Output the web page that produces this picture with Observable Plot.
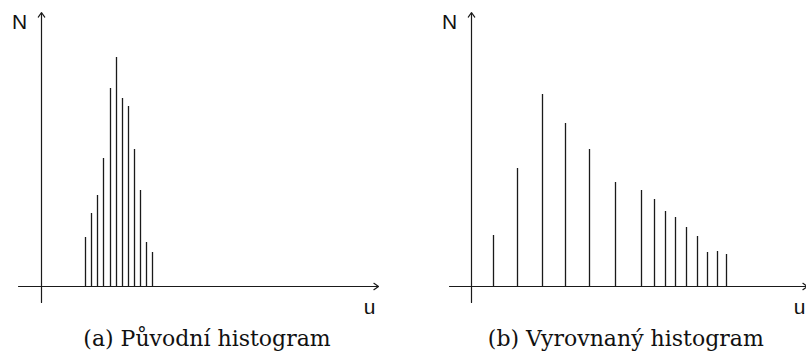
<!DOCTYPE html>
<html>
<head>
<meta charset="utf-8">
<script src="https://cdn.jsdelivr.net/npm/d3@7"></script>
<script src="https://cdn.jsdelivr.net/npm/@observablehq/plot@0.6"></script>
<style>
  html, body { margin: 0; padding: 0; background: #fff; }
  #wrap { display: flex; width: 806px; height: 354px; overflow: hidden; }
</style>
</head>
<body>
<div id="wrap"></div>
<script>
// Original histogram (a): gray level u and count N
const origU = [44, 50, 56, 62, 69, 75, 81, 87, 93, 99, 105, 111];
const origN = [49, 73, 91, 128, 198, 229, 188, 180, 137, 96, 44, 34];

// Equalized histogram (b)
const eqU = [22, 46, 71, 94, 118, 144, 170, 183, 194, 204, 215, 226, 236, 246, 255];
const eqN = [51, 118, 192, 163, 137, 104, 96, 87, 75, 69, 59, 50, 34, 35, 32];

// Texts
const captions = ["(a) Původní histogram", "(b) Vyrovnaný histogram"];
const yLabel = "N";
const xLabel = "u";

// axis extents (data units)
const axisXLeft = [-23, 337];
const axisXRight = [-22, 336];
const axisYExtent = [-16, 274];

function panel(us, ns, caption, xDomain, axisX, captionU) {
  const data = us.map((u, i) => ({u, n: ns[i]}));
  const svg = Plot.plot({
    width: 403,
    height: 354,
    marginTop: 0, marginBottom: 0, marginLeft: 0, marginRight: 0,
    x: {domain: xDomain, axis: null},
    y: {domain: [-68, 286], axis: null},
    style: {background: "transparent"},
    marks: [
      Plot.ruleX(data, {x: "u", y1: 0, y2: "n", stroke: "#1a1a1a", strokeWidth: 1.3}),
      Plot.arrow([{x1: axisX[0], x2: axisX[1]}], {x1: "x1", x2: "x2", y1: 0, y2: 0, stroke: "#1a1a1a", strokeWidth: 1.2, headLength: 7, headAngle: 70}),
      Plot.arrow([{y1: axisYExtent[0], y2: axisYExtent[1]}], {x1: 0, x2: 0, y1: "y1", y2: "y2", stroke: "#1a1a1a", strokeWidth: 1.2, headLength: 7, headAngle: 70}),
      Plot.text([yLabel], {x: -22, y: 258, text: d => d, fontSize: 21, lineAnchor: "bottom", fill: "#111"}),
      Plot.text([xLabel], {x: 328, y: -27, text: d => d, fontSize: 21, lineAnchor: "bottom", fill: "#111"}),
      Plot.text([caption], {x: captionU, y: -59, text: d => d, fontSize: 22, lineAnchor: "bottom", fill: "#111"})
    ]
  });
  d3.select(svg).selectAll("text").each(function() {
    const t = d3.select(this);
    const isCap = t.text().length > 2;
    t.style("font-family", isCap ? "'DejaVu Serif', serif" : "'Liberation Sans', sans-serif");
  });
  return svg;
}

const wrap = document.getElementById("wrap");
wrap.appendChild(panel(origU, origN, captions[0], [-41, 362], axisXLeft, 165.5));
wrap.appendChild(panel(eqU, eqN, captions[1], [-68, 335], axisXRight, 154.3));
</script>
</body>
</html>
